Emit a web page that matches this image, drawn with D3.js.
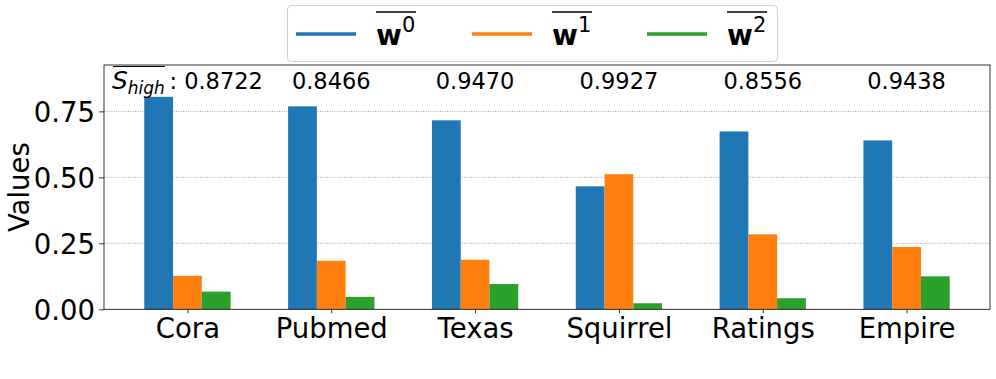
<!DOCTYPE html>
<html><head><meta charset="utf-8">
<script src="https://cdn.jsdelivr.net/npm/d3@7"></script>
<style>body{margin:0;background:#fff}svg{display:block;font-family:"DejaVu Sans",sans-serif}</style>
</head><body><svg id="c" width="996" height="379"></svg>
<script>
const categories = ["Cora","Pubmed","Texas","Squirrel","Ratings","Empire"];
const w0 = [0.805,0.769,0.716,0.466,0.674,0.640];
const w1 = [0.127,0.184,0.188,0.512,0.284,0.236];
const w2 = [0.067,0.047,0.096,0.023,0.042,0.125];
const sHigh = ["0.8722","0.8466","0.9470","0.9927","0.8556","0.9438"];
const yTicks = [0,0.25,0.5,0.75];
const seriesNames = ["0","1","2"];
const colors = ["#1f77b4","#ff7f0e","#2ca02c"];
const series = [w0,w1,w2];

const svg = d3.select("#c");
const L=104,R=990,T=65,B=309.3;
const x = d3.scaleLinear().domain([-0.58, categories.length-1+0.58]).range([L,R]);
const y = d3.scaleLinear().domain([0, d3.max(w0)*1.15]).range([B,T]);
const bw = 0.2;

// grid
svg.append("g").selectAll("line").data(yTicks.filter(d=>d>0)).join("line")
  .attr("x1",L).attr("x2",R).attr("y1",d=>y(d)).attr("y2",d=>y(d))
  .attr("stroke","#8a8a8a").attr("stroke-width",0.8).attr("stroke-dasharray","1,1.4");

// bars
series.forEach((s,j)=>{
  svg.append("g").selectAll("rect").data(s).join("rect")
    .attr("x",(d,i)=>x(i+(j-1)*bw-bw/2)).attr("width",x(bw)-x(0))
    .attr("y",d=>y(d)).attr("height",d=>y(0)-y(d)).attr("fill",colors[j]);
});

// axes
const yAxis = d3.axisLeft(y).tickValues(yTicks).tickFormat(d3.format(".2f")).tickSize(5).tickPadding(4);
const gy = svg.append("g").attr("transform",`translate(${L},0)`).call(yAxis);
gy.select(".domain").remove();
gy.selectAll("text").attr("font-size",27.5).attr("font-family","DejaVu Sans").attr("fill","#000").attr("dy","0.36em");
gy.selectAll("line").attr("stroke","#000").attr("stroke-width",0.8);

const xAxis = d3.axisBottom(x).tickValues(d3.range(categories.length)).tickFormat(i=>categories[i]).tickSize(4).tickPadding(5);
const gx = svg.append("g").attr("transform",`translate(0,${B})`).call(xAxis);
gx.select(".domain").remove();
gx.selectAll("text").attr("font-size",27.5).attr("font-family","DejaVu Sans").attr("fill","#000").attr("dy","0.72em");
gx.selectAll("line").attr("stroke","#000").attr("stroke-width",0.8);

// frame
svg.append("rect").attr("x",L).attr("y",T).attr("width",R-L).attr("height",B-T)
  .attr("fill","none").attr("stroke","#000").attr("stroke-width",0.8);

// y label
svg.append("text").attr("transform",`translate(29,${(T+B)/2}) rotate(-90)`)
  .attr("text-anchor","middle").attr("font-size",27.5).text("Values");

// annotations
sHigh.forEach((v,i)=>{
  const t = svg.append("text").attr("x",x(i)).attr("y",T+23.5).attr("text-anchor","middle").attr("font-size",22.5);
  if(i===0){
    t.append("tspan").attr("font-style","italic").attr("font-size",25).text("S");
    t.append("tspan").attr("font-style","italic").attr("font-size",17).attr("dy",5).text("high");
    t.append("tspan").attr("dy",-5).text("\u2009: "+v);
  } else t.text(v);
  if(i===0){
    const bb = t.node().getBBox();
    svg.append("line").attr("x1",bb.x+1).attr("x2",bb.x+53).attr("y1",T+1.5).attr("y2",T+1.5)
      .attr("stroke","#000").attr("stroke-width",1.2);
  }
});

// legend
const lg = svg.append("g");
lg.append("rect").attr("x",287.5).attr("y",5.5).attr("width",490).attr("height",56).attr("rx",4)
  .attr("fill","#fff").attr("fill-opacity",0.8).attr("stroke","#d0d0d0").attr("stroke-width",1);
const lx = [296,472,647];
seriesNames.forEach((n,j)=>{
  lg.append("line").attr("x1",lx[j]).attr("x2",lx[j]+60).attr("y1",34).attr("y2",34)
    .attr("stroke",colors[j]).attr("stroke-width",3.5);
  const t = lg.append("text").attr("x",lx[j]+80).attr("y",45).attr("font-size",28);
  t.append("tspan").attr("font-weight","bold").text("w");
  t.append("tspan").attr("font-size",21).attr("dy",-13).text(n);
  lg.append("line").attr("x1",lx[j]+80).attr("x2",lx[j]+120).attr("y1",12).attr("y2",12)
    .attr("stroke","#000").attr("stroke-width",1.5);
});
</script></body></html>
